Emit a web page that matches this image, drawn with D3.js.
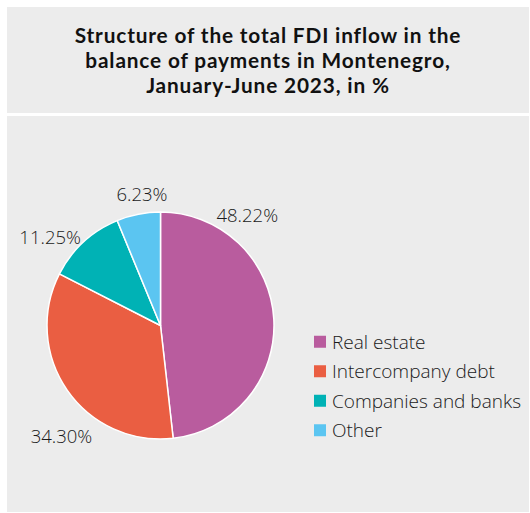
<!DOCTYPE html>
<html>
<head>
<meta charset="utf-8">
<script src="https://cdn.jsdelivr.net/npm/d3@7"></script>
<style>
  html, body { margin: 0; padding: 0; background: #ffffff; }
  svg { display: block; }
</style>
</head>
<body>
<svg id="chart" width="530" height="513"></svg>
<script>
// FDI inflow structure, January-June 2023 (shares in %)
const categories = ["Real estate", "Intercompany debt", "Companies and banks", "Other"];
const shares = [48.22, 34.30, 11.25, 6.23];
const valueLabels = ["48.22%", "34.30%", "11.25%", "6.23%"];
const colors = ["#b95c9e", "#ea5e42", "#00b2b5", "#5bc5f1"];
const titleLines = [
  "Structure of the total FDI inflow in the",
  "balance of payments in Montenegro,",
  "January-June 2023, in %"
];

// Layout
const cx = 160.5, cy = 325.5, radius = 113.5;
// Where each value label sits: angle (deg, clockwise from 12 o'clock) and distance from centre
const labelPlacement = [
  { angle: 38, dist: 141 },
  { angle: 222, dist: 148 },
  { angle: -51, dist: 142 },
  { angle: -8, dist: 133 }
];

const svg = d3.select("#chart");
const titleFont = "Lato, 'Open Sans', sans-serif";
const font = "'Open Sans', 'Noto Sans', sans-serif";

// Panels
svg.append("rect").attr("x", 7).attr("y", 7).attr("width", 522).attr("height", 106).attr("fill", "#ececec");
svg.append("rect").attr("x", 7).attr("y", 116).attr("width", 522).attr("height", 396).attr("fill", "#ececec");

// Title
svg.append("g").selectAll("text")
  .data(titleLines)
  .join("text")
  .attr("x", 268)
  .attr("y", (d, i) => 42.5 + i * 25)
  .attr("text-anchor", "middle")
  .attr("font-family", titleFont)
  .attr("font-weight", 700)
  .attr("font-size", 20.8)
  .attr("letter-spacing", 0.85)
  .attr("fill", "#111")
  .text(d => d);

// Pie
const data = categories.map((c, i) => ({ name: c, value: shares[i], label: valueLabels[i], color: colors[i] }));
const pie = d3.pie().value(d => d.value).sort(null).startAngle(0).endAngle(2 * Math.PI);
const arc = d3.arc().innerRadius(0).outerRadius(radius);
const arcs = pie(data);

const g = svg.append("g").attr("transform", `translate(${cx},${cy})`);
g.selectAll("path")
  .data(arcs)
  .join("path")
  .attr("d", arc)
  .attr("fill", d => d.data.color)
  .attr("stroke", "#ffffff")
  .attr("stroke-width", 1.5)
  .attr("stroke-linejoin", "round");

// Value labels
g.selectAll("text.val")
  .data(arcs)
  .join("text")
  .attr("class", "val")
  .attr("x", (d, i) => labelPlacement[i].dist * Math.sin(labelPlacement[i].angle * Math.PI / 180))
  .attr("y", (d, i) => -labelPlacement[i].dist * Math.cos(labelPlacement[i].angle * Math.PI / 180))
  .attr("text-anchor", "middle")
  .attr("dominant-baseline", "central")
  .attr("font-family", font)
  .attr("font-weight", 300)
  .attr("font-size", 18.5)
  .attr("fill", "#1a1a1a")
  .text(d => d.data.label);

// Legend
const yLegend = d3.scaleBand().domain(categories).range([327, 445]);
const legend = svg.append("g");
const rows = legend.selectAll("g")
  .data(data)
  .join("g")
  .attr("transform", d => `translate(314,${yLegend(d.name) + yLegend.bandwidth() / 2})`);
rows.append("rect")
  .attr("x", 0).attr("y", -6).attr("width", 12).attr("height", 12)
  .attr("fill", d => d.color);
rows.append("text")
  .attr("x", 18)
  .attr("y", 0)
  .attr("dominant-baseline", "central")
  .attr("font-family", font)
  .attr("font-weight", 300)
  .attr("font-size", 19)
  .attr("fill", "#1a1a1a")
  .text(d => d.name);
</script>
</body>
</html>
